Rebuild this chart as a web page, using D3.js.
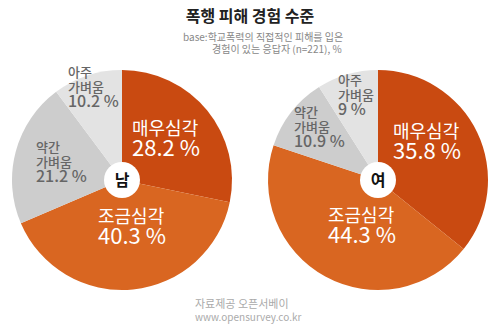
<!DOCTYPE html>
<html><head><meta charset="utf-8">
<script src="https://cdn.jsdelivr.net/npm/d3@7"></script>
<style>
html,body{margin:0;padding:0;background:#fff;}
svg{display:block;font-family:"Noto Sans CJK KR","Noto Sans",sans-serif;}
</style></head>
<body><svg id="c" width="500" height="332"></svg>
<script>
const categories = ["매우심각", "조금심각", "약간 가벼움", "아주 가벼움"];
const categoryLines = [["매우심각"], ["조금심각"], ["약간", "가벼움"], ["아주", "가벼움"]];
const groups = ["남", "여"];
const maleValues = [28.2, 40.3, 21.2, 10.2];
const femaleValues = [35.8, 44.3, 10.9, 9];
const seriesValues = [maleValues, femaleValues];

const title = "폭행 피해 경험 수준";
const subtitleLines = ["base:학교폭력의 직접적인 피해를 입은", "경험이 있는 응답자 (n=221), %"];
const sourceLines = ["자료제공 오픈서베이", "www.opensurvey.co.kr"];

// layout / style
const colors = ["#C94A11", "#D96621", "#CDCDCD", "#E3E3E3"];
const textColors = ["#fff", "#fff", "#666", "#666"];
const R = 110;
const centers = [[122, 180], [378, 180]];
// label block offsets relative to pie center: [dx, first baseline dy]
const labelLayout = [
  [[10, -45], [-24, 43], [-86, -28], [-54, -103]],
  [[15, -42], [-50, 42], [-84, -63], [-40, -95]]
];

const svg = d3.select("#c");

svg.append("text").attr("x", 250).attr("y", 22).attr("text-anchor", "middle")
  .attr("font-size", 16).attr("font-weight", "bold").attr("fill", "#222").text(title);
svg.append("text").attr("x", 183).attr("y", 41).attr("font-size", 10).attr("fill", "#888").text(subtitleLines[0]);
svg.append("text").attr("x", 212).attr("y", 53).attr("font-size", 10).attr("fill", "#888").text(subtitleLines[1]);

const pie = d3.pie().sort(null).value(d => d);
const arc = d3.arc().innerRadius(0).outerRadius(R);

seriesValues.forEach((vals, gi) => {
  const g = svg.append("g").attr("transform", `translate(${centers[gi][0]},${centers[gi][1]})`);
  const arcs = pie(vals);
  g.selectAll("path").data(arcs).join("path")
    .attr("d", arc).attr("fill", (d, i) => colors[i]);

  arcs.forEach((d, i) => {
    const [dx, dy] = labelLayout[gi][i];
    const big = i < 2;
    const lh = big ? 21 : 15;
    const t = g.append("text").attr("fill", textColors[i]);
    const lines = categoryLines[i].concat([d.data + " %"]);
    lines.forEach((ln, li) => {
      const isNum = li === lines.length - 1;
      t.append("tspan").attr("x", dx).attr("y", dy + li * lh)
        .attr("font-size", big ? (isNum ? 22 : 18) : (isNum ? 16 : 13))
        .attr("font-weight", big ? "normal" : "500")
        .text(ln);
    });
  });

  g.append("circle").attr("r", 18).attr("fill", "#fff");
  g.append("text").attr("text-anchor", "middle").attr("y", 6)
    .attr("font-size", 16).attr("font-weight", "bold").attr("fill", "#111").text(groups[gi]);
});

svg.append("text").attr("x", 195).attr("y", 308).attr("font-size", 11).attr("fill", "#aaa").text(sourceLines[0]);
svg.append("text").attr("x", 195).attr("y", 321).attr("font-size", 10).attr("fill", "#aaa").text(sourceLines[1]);
</script></body></html>
